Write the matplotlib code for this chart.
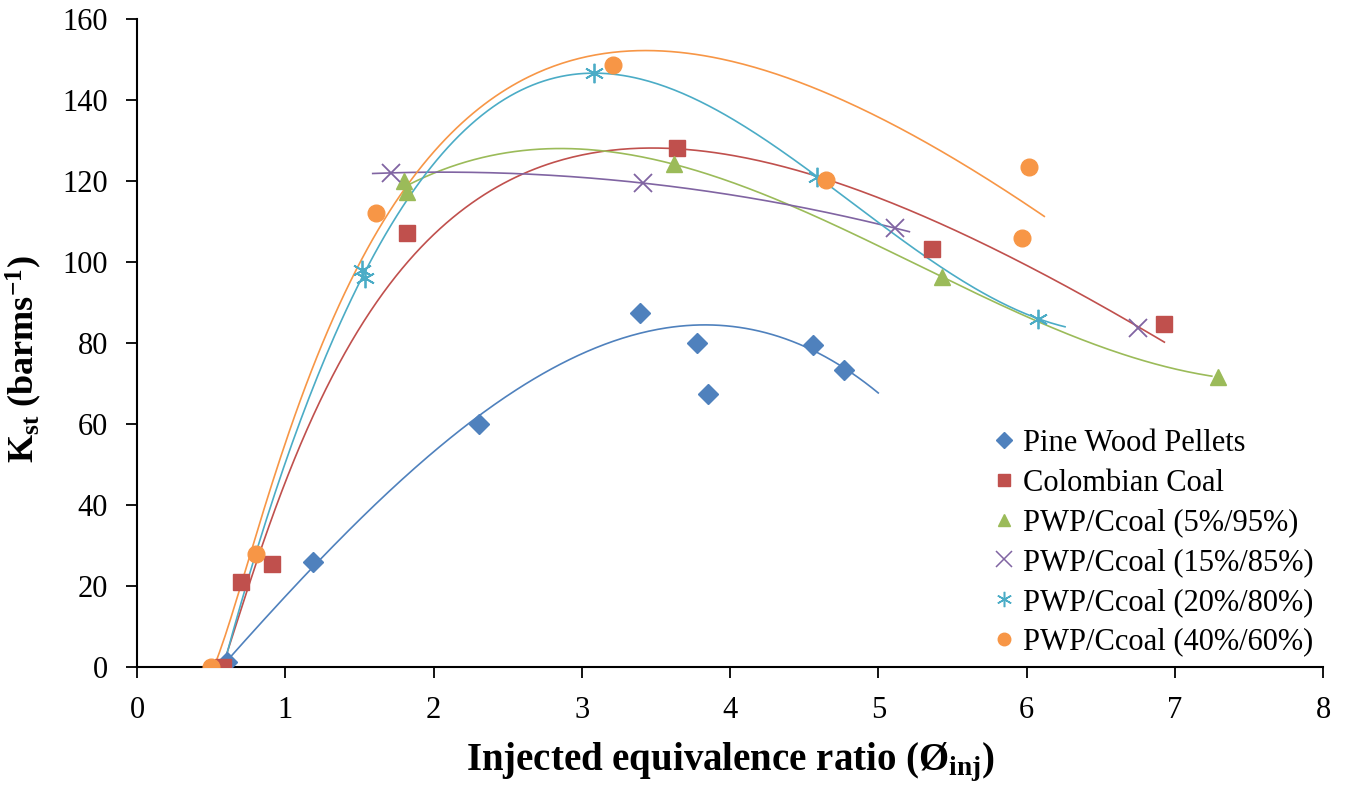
import numpy as np
import matplotlib
matplotlib.use("Agg")
import matplotlib.pyplot as plt
from matplotlib.lines import Line2D

plt.rcParams['font.family'] = ['Liberation Serif', 'DejaVu Serif']
plt.rcParams['mathtext.fontset'] = 'custom'
plt.rcParams['mathtext.rm'] = 'Liberation Serif'
plt.rcParams['mathtext.bf'] = 'Liberation Serif:bold'
plt.rcParams['mathtext.it'] = 'Liberation Serif:italic'

# ---- data ----
labels = ["Pine Wood Pellets", "Colombian Coal", "PWP/Ccoal (5%/95%)",
          "PWP/Ccoal (15%/85%)", "PWP/Ccoal (20%/80%)", "PWP/Ccoal (40%/60%)"]

pwp_x = [0.61, 1.19, 2.31, 3.39, 3.78, 3.85, 4.56, 4.77]
pwp_y = [1.2, 26, 60, 87.4, 80, 67.4, 79.5, 73.3]

cc_x = [0.58, 0.70, 0.91, 1.82, 3.64, 5.36, 6.93]
cc_y = [0, 21, 25.4, 107.2, 128.1, 103.2, 84.7]

m5_x = [1.80, 1.82, 3.62, 5.43, 7.29]
m5_y = [120, 117.3, 124.2, 96.3, 71.6]

m15_x = [1.71, 3.41, 5.11, 6.75]
m15_y = [122, 119.5, 108.4, 83.7]

m20_x = [1.52, 1.54, 3.08, 4.59, 6.08]
m20_y = [98, 96, 146.7, 121, 86]

m40_x = [0.50, 0.80, 1.61, 3.21, 4.65, 5.97, 6.02]
m40_y = [0, 28, 112, 148.6, 120.2, 106, 123.4]

xs = [pwp_x, cc_x, m5_x, m15_x, m20_x, m40_x]
ys = [pwp_y, cc_y, m5_y, m15_y, m20_y, m40_y]

# trendline settings: polynomial degree, fit against ln(x)?, points used, drawn x-range
trend_deg = [3, 3, 3, 2, 3, 3]
trend_logx = [False, True, False, False, False, True]
trend_use = [[1, 1, 1, 1, 1, 0, 1, 1],
             [1, 1, 1, 1, 1, 1, 1],
             [1, 1, 1, 1, 1],
             [1, 1, 1, 0],
             [1, 1, 1, 1, 1],
             [1, 1, 1, 1, 0, 1, 1]]
trend_range = [(0.55, 5.0), (0.55, 6.93), (1.78, 7.25), (1.59, 5.21), (0.55, 6.26), (0.5, 6.12)]

colors = ["#4F81BD", "#C0504D", "#9BBB59", "#8064A2", "#4BACC6", "#F79646"]
markers = ["D", "s", "^", "x", (6, 2, 0), "o"]
msizes = [10, 12, 12, 13, 14, 12]

fig = plt.figure(figsize=(13.59, 7.87), dpi=100)
ax = fig.add_axes([137/1359, 1-667/787, (1323-137)/1359, (667-19)/787])

for i in range(6):
    x = np.array(xs[i]); y = np.array(ys[i])
    m = np.array(trend_use[i], dtype=bool)
    f = np.log if trend_logx[i] else (lambda v: v)
    p = np.polyfit(f(x[m]), y[m], trend_deg[i])
    xx = np.linspace(trend_range[i][0], trend_range[i][1], 300)
    yy = np.polyval(p, f(xx))
    keep = yy >= 0
    ax.plot(xx[keep], yy[keep], color=colors[i], lw=1.2, zorder=2)

for i in range(6):
    mk = markers[i]
    if mk == "x" or isinstance(mk, tuple):
        ax.plot(xs[i], ys[i], linestyle='none', marker=mk, ms=msizes[i],
                mec=colors[i], mew=1.3, color=colors[i], zorder=3)
    else:
        ax.plot(xs[i], ys[i], linestyle='none', marker=mk, ms=msizes[i],
                mfc=colors[i], mec=colors[i], zorder=3)

ax.set_xlim(0, 8)
ax.set_ylim(0, 160)
ax.set_xticks(range(0, 9))
ax.set_yticks(range(0, 161, 20))
for s in ['top', 'right']:
    ax.spines[s].set_visible(False)
for s in ['left', 'bottom']:
    ax.spines[s].set_linewidth(1.5)
ax.tick_params(axis='both', direction='out', length=8, width=1.3, labelsize=22)
ax.tick_params(axis='y', pad=13)
ax.tick_params(axis='x', pad=13)

ax.set_xlabel(r"Injected equivalence ratio (Ø$_{\mathbf{inj}}$)", fontsize=28,
              fontweight='bold', labelpad=11)
ax.set_ylabel(r"K$_{\mathbf{st}}$ (barms$^{\mathbf{-1}}$)", fontsize=26,
              fontweight='bold')
ax.yaxis.set_label_coords(-0.078, 0.475)

handles = []
for i in range(6):
    mk = markers[i]
    if mk == "x" or isinstance(mk, tuple):
        h = Line2D([], [], linestyle='none', marker=mk, ms=11, mec=colors[i], mew=1.1, color=colors[i])
    else:
        h = Line2D([], [], linestyle='none', marker=mk, ms=9 if mk != "D" else 8,
                   mfc=colors[i], mec=colors[i])
    handles.append(h)
leg = ax.legend(handles, labels, loc='upper left', bbox_to_anchor=(995/1359, 1-429/787),
                bbox_transform=fig.transFigure, frameon=False, fontsize=22,
                handlelength=0.6, handletextpad=0.33, labelspacing=0.35,
                borderpad=0, borderaxespad=0)

fig.savefig("out.png", dpi=100)
